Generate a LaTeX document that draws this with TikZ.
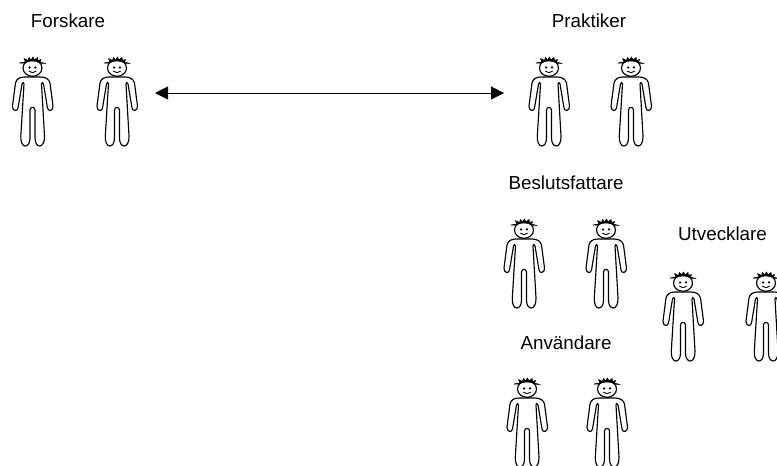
\documentclass[tikz,border=0pt]{standalone}
\usepackage{fontspec}
\setmainfont{Liberation Sans}
\usetikzlibrary{arrows.meta}
\tikzset{
  lbl/.style={font=\fontsize{18.8pt}{22pt}\selectfont, inner sep=0pt, text=black},
  line/.style={draw=black, line width=1.15pt, line cap=round, line join=round},
  person/.pic={
    % body
    \draw[line]
      (-8,9) .. controls (-13,9) and (-16,11) .. (-17,15)
      -- (-20,38) .. controls (-20.5,43) and (-15,44) .. (-14.5,40)
      -- (-10.5,16) .. controls (-10,14) and (-8.5,14) .. (-8.5,16)
      -- (-11.7,68) .. controls (-12.5,81) and (-2.5,81) .. (-2.5,70) -- (-2.5,42)
      .. controls (-2.5,38.5) and (2.5,38.5) .. (2.5,42) -- (2.5,70)
      .. controls (2.5,81) and (12.5,81) .. (12,68)
      -- (9,16) .. controls (9,14) and (10.5,14) .. (11,16)
      -- (15,40) .. controls (15.5,44) and (21,43) .. (20.5,38)
      -- (17.5,15) .. controls (16.5,11) and (13,9) .. (8,9) -- cycle;
    % head
    \draw[line, fill=white] (0,0) ellipse (9.5 and 8.3);
    \fill (-2.9,-0.6) circle (1.25);
    \fill (2.9,-0.6) circle (1.25);
    \draw[line, line width=0.9pt] (-3.5,3.2) .. controls (-1.5,5.2) and (1.5,5.2) .. (3.5,3.2);
    % hair
    \draw[line, line width=0.6pt, fill=black]
      (-13,-5) -- (-7,-6) -- (-8.5,-9.5) -- (-4.5,-7.5) -- (-3.5,-10.5) -- (-1.5,-8)
      -- (0.5,-11) -- (2,-8) -- (5,-10.5) -- (5.5,-7.5) -- (8.5,-8.5) -- (7.5,-5.8) -- (13,-4.5)
      -- (8,-4.9) .. controls (3,-7.8) and (-3,-7.8) .. (-8,-4.9) -- cycle;
  }
}
\begin{document}
\begin{tikzpicture}[x=1pt,y=-1pt]
\useasboundingbox (0,0) rectangle (777,466);
\node[lbl] (forskare) at (68,21) {Forskare};
\node[lbl] (praktiker) at (589,21) {Praktiker};
\node[lbl] (beslut) at (566,183) {Beslutsfattare};
\node[lbl] (utv) at (722.5,234) {Utvecklare};
\node[lbl] (anv) at (566,343) {Användare};
\foreach \n/\x/\y in {a/32.5/68,b/117/68,c/549/68,d/631/68,e/524/230,f/606/230,g/683/283,h/766/283,i/527/389,j/607/389}
  \pic (\n) at (\x,\y) {person};
\coordinate (l) at (155,93);
\coordinate (r) at (504,93);
\draw[line width=1pt, {Triangle[length=13pt,width=13pt]}-{Triangle[length=13pt,width=13pt]}] (l) -- (r);
\end{tikzpicture}
\end{document}
